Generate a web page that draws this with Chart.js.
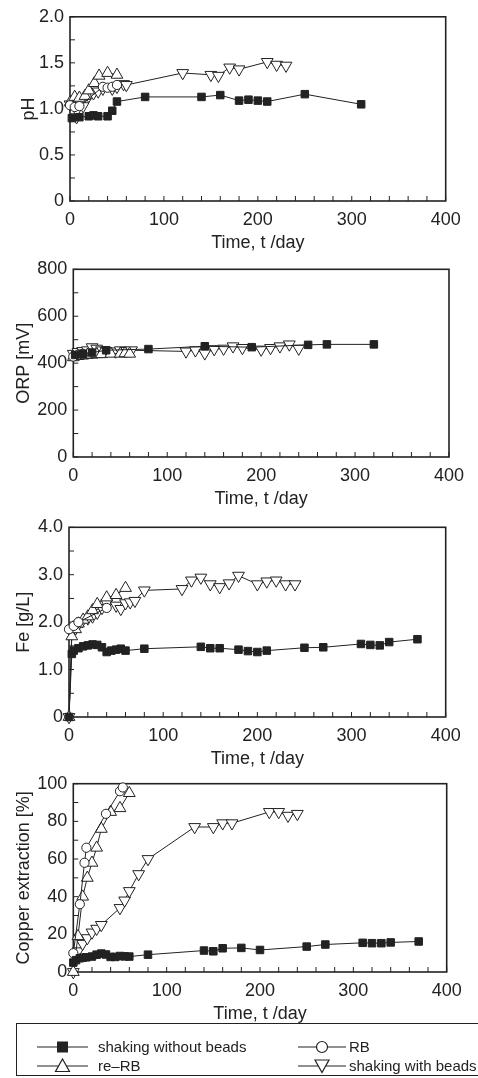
<!DOCTYPE html>
<html>
<head>
<meta charset="utf-8">
<script src="https://cdn.jsdelivr.net/npm/chart.js@4.4.1/dist/chart.umd.min.js"></script>
<style>
body { margin: 0; background: #fff; font-family: "Liberation Sans", Arial, sans-serif; color: #222; }
#page { position: relative; width: 478px; height: 1078px; overflow: hidden; }
.panel { position: absolute; left: 0; width: 478px; }
#legend { position: absolute; left: 16px; top: 1023px; width: 470px; height: 53px; box-sizing: border-box; border: 1.5px solid #222; }
.item { position: absolute; height: 20px; line-height: 20px; font-size: 15px; white-space: nowrap; }
.item svg { position: absolute; top: 0; left: 0; }
.item span { position: absolute; top: 0; }
</style>
</head>
<body>
<div id="page">
  <div class="panel" style="top:0px;height:256px"><canvas id="chartPH"></canvas></div>
  <div class="panel" style="top:250px;height:262px"><canvas id="chartORP"></canvas></div>
  <div class="panel" style="top:510px;height:262px"><canvas id="chartFe"></canvas></div>
  <div class="panel" style="top:765px;height:262px"><canvas id="chartCu"></canvas></div>

  <div id="legend">
    <div class="item" style="left:20px;top:13px">
      <svg width="51" height="20"><line x1="0" y1="10" x2="51" y2="10" stroke="#222" stroke-width="1.2"/><rect x="20" y="4.5" width="11" height="11" fill="#222"/></svg>
      <span style="left:61px">shaking without beads</span>
    </div>
    <div class="item" style="left:20px;top:32px">
      <svg width="51" height="20"><line x1="0" y1="10" x2="51" y2="10" stroke="#222" stroke-width="1.2"/><polygon points="25.5,3 32.5,15.5 18.5,15.5" fill="#fff" stroke="#222" stroke-width="1.2"/></svg>
      <span style="left:61px">re–RB</span>
    </div>
    <div class="item" style="left:281px;top:13px">
      <svg width="48" height="20"><line x1="0" y1="10" x2="48" y2="10" stroke="#222" stroke-width="1.2"/><circle cx="24" cy="10" r="5.5" fill="#fff" stroke="#222" stroke-width="1.2"/></svg>
      <span style="left:51px">RB</span>
    </div>
    <div class="item" style="left:281px;top:32px">
      <svg width="48" height="20"><line x1="0" y1="10" x2="48" y2="10" stroke="#222" stroke-width="1.2"/><polygon points="17,4 31,4 24,16.5" fill="#fff" stroke="#222" stroke-width="1.2"/></svg>
      <span style="left:51px">shaking with beads</span>
    </div>
  </div>
</div>

<script>
// ---- data (days / values) ----
let xTicks = [0, 100, 200, 300, 400]

// pH
let phDaysNoBeads = [2, 10, 20, 25, 30, 40, 45, 50, 80, 140, 160, 180, 190, 200, 210, 250, 310]
let phNoBeads = [0.90, 0.91, 0.92, 0.93, 0.92, 0.92, 0.98, 1.08, 1.13, 1.13, 1.15, 1.09, 1.10, 1.09, 1.08, 1.16, 1.05]
let phDaysRB = [0, 5, 10, 35, 40, 45, 50]
let phRB = [1.04, 1.02, 1.03, 1.24, 1.23, 1.24, 1.26]
let phDaysReRB = [0, 5, 10, 16, 20, 26, 31, 40, 50]
let phReRB = [1.07, 1.13, 1.12, 1.14, 1.20, 1.28, 1.36, 1.39, 1.37]
let phDaysBeads = [0, 7, 14, 20, 25, 30, 35, 45, 50, 57, 60, 120, 150, 158, 170, 180, 210, 220, 230]
let phBeads = [1.05, 0.91, 1.03, 1.14, 1.17, 1.19, 1.22, 1.22, 1.24, 1.27, 1.26, 1.39, 1.37, 1.36, 1.45, 1.43, 1.51, 1.48, 1.47]
let phTicks = [0, 0.5, 1.0, 1.5, 2.0]

// ORP
let orpDaysNoBeads = [2, 10, 20, 35, 80, 140, 190, 250, 270, 320]
let orpNoBeads = [435, 440, 445, 455, 460, 472, 468, 478, 480, 480]
let orpDaysRB = [0, 5, 10]
let orpRB = [428, 436, 440]
let orpDaysReRB = [0, 5, 10, 15, 20, 25, 30, 40, 50, 55, 60]
let orpReRB = [425, 430, 432, 435, 436, 438, 438, 440, 440, 442, 440]
let orpDaysBeads = [0, 5, 10, 15, 20, 25, 30, 35, 45, 50, 57, 62, 120, 130, 140, 150, 160, 170, 180, 200, 210, 220, 230, 240]
let orpBeads = [440, 448, 452, 455, 468, 462, 455, 452, 450, 455, 452, 455, 450, 455, 442, 460, 462, 472, 465, 458, 465, 472, 480, 462]
let orpTicks = [0, 200, 400, 600, 800]

// Fe
let feDaysNoBeads = [0, 3, 5, 10, 15, 20, 25, 30, 35, 40, 45, 50, 55, 60, 80, 140, 150, 160, 180, 190, 200, 210, 250, 270, 310, 320, 330, 340, 370]
let feNoBeads = [0, 1.33, 1.40, 1.45, 1.49, 1.51, 1.53, 1.52, 1.47, 1.37, 1.40, 1.42, 1.44, 1.40, 1.44, 1.48, 1.45, 1.45, 1.42, 1.39, 1.37, 1.40, 1.46, 1.47, 1.54, 1.52, 1.51, 1.58, 1.64]
let feDaysRB = [0, 5, 10, 40]
let feRB = [1.85, 1.92, 2.00, 2.30]
let feDaysReRB = [0, 3, 7, 10, 15, 20, 25, 30, 40, 50, 60]
let feReRB = [0, 1.70, 1.85, 1.97, 2.05, 2.12, 2.25, 2.38, 2.52, 2.57, 2.72]
let feDaysBeads = [0, 3, 7, 10, 14, 20, 25, 30, 35, 40, 50, 55, 60, 65, 70, 80, 120, 130, 140, 150, 160, 170, 180, 200, 210, 220, 230, 240]
let feBeads = [0, 1.80, 1.87, 1.95, 2.02, 2.08, 2.12, 2.20, 2.30, 2.40, 2.35, 2.28, 2.40, 2.42, 2.45, 2.67, 2.70, 2.88, 2.94, 2.80, 2.74, 2.82, 2.98, 2.80, 2.86, 2.88, 2.80, 2.80]
let feTicks = [0, 1.0, 2.0, 3.0, 4.0]

// Copper extraction
let cuDaysNoBeads = [0, 3, 7, 10, 14, 20, 25, 30, 35, 40, 45, 50, 55, 60, 80, 140, 150, 160, 180, 200, 250, 270, 310, 320, 330, 340, 370]
let cuNoBeads = [5, 6.3, 7.3, 7.6, 7.8, 8.2, 9.2, 9.8, 9.3, 8.0, 8.0, 8.5, 8.3, 8.2, 9.2, 11.4, 11.0, 12.6, 12.8, 11.7, 13.5, 14.6, 15.5, 15.3, 15.3, 15.7, 16.2]
let cuDaysRB = [0, 7, 12, 14, 35, 50, 53]
let cuRB = [10, 36, 58, 66, 84, 96, 98]
let cuDaysReRB = [0, 5, 10, 15, 20, 25, 30, 40, 50, 60]
let cuReRB = [0, 19, 40, 50, 58, 66, 76, 85, 87, 95]
let cuDaysBeads = [0, 5, 10, 15, 20, 25, 30, 50, 55, 60, 70, 80, 130, 150, 160, 170, 210, 220, 230, 240]
let cuBeads = [0, 11, 15, 18, 21, 23, 25, 34, 38, 43, 52, 60, 77, 77, 79, 79, 85, 85, 83, 84]
let cuTicks = [0, 20, 40, 60, 80, 100]

let ink = '#222'
let fontFamily = '"Liberation Sans", Arial, sans-serif'

// frame round the plot area + small inward ticks on bottom and left
let frameTicks = {
    id: 'frameTicks',
    beforeDatasetsDraw(chart, args, opts) {
        let ctx = chart.ctx, a = chart.chartArea, x = chart.scales.x, y = chart.scales.y
        ctx.save()
        ctx.strokeStyle = ink
        ctx.lineWidth = 1
        ctx.beginPath()
        for (let v = 0; v <= 400; v += 20) {
            let px = x.getPixelForValue(v)
            ctx.moveTo(px, a.bottom)
            ctx.lineTo(px, a.bottom - 5)
        }
        for (let v = y.min; v <= y.max + 1e-9; v += opts.yMinor) {
            let py = y.getPixelForValue(v)
            ctx.moveTo(a.left, py)
            ctx.lineTo(a.left + 5, py)
        }
        ctx.stroke()
        ctx.lineWidth = 1.6
        ctx.strokeRect(a.left, a.top, a.right - a.left, a.bottom - a.top)
        ctx.restore()
    }
}

function series(days, vals, kind) {
    let ds = {
        data: days.map((d, i) => ({x: d, y: vals[i]})),
        showLine: true,
        borderColor: ink,
        borderWidth: 1,
        pointBorderColor: ink,
        pointBorderWidth: 1,
        pointBackgroundColor: '#fff',
        clip: false
    }
    if (kind == 'square') { ds.pointStyle = 'rect'; ds.pointRadius = 5.3; ds.pointBackgroundColor = ink }
    if (kind == 'circle') { ds.pointStyle = 'circle'; ds.pointRadius = 4.6 }
    if (kind == 'up') { ds.pointStyle = 'triangle'; ds.pointRadius = 6.8 }
    if (kind == 'down') { ds.pointStyle = 'triangle'; ds.pointRadius = 6.8; ds.pointRotation = 180 }
    return ds
}

function makeChart(el, p) {
    return new Chart(document.getElementById(el), {
        type: 'scatter',
        data: { datasets: p.datasets },
        options: {
            responsive: true,
            maintainAspectRatio: false,
            animation: false,
            events: [],
            layout: { padding: { top: p.top, right: 478 - p.right, bottom: 2, left: 0 } },
            plugins: { legend: { display: false }, tooltip: { enabled: false }, frameTicks: { yMinor: p.yMinor } },
            scales: {
                x: {
                    type: 'linear', min: 0, max: 400,
                    afterFit: s => { s.height = 53 },
                    afterBuildTicks: s => { s.ticks = xTicks.map(v => ({value: v})) },
                    grid: { display: false, drawTicks: false },
                    border: { display: false },
                    ticks: { color: ink, padding: 8, font: { family: fontFamily, size: 18 } },
                    title: { display: true, text: 'Time, t /day', color: ink, padding: { top: 0, bottom: 0 }, font: { family: fontFamily, size: 18 } }
                },
                y: {
                    min: p.yTicks[0], max: p.yTicks[p.yTicks.length - 1],
                    afterFit: s => { s.width = p.left },
                    afterBuildTicks: s => { s.ticks = p.yTicks.map(v => ({value: v})) },
                    grid: { display: false, drawTicks: false },
                    border: { display: false },
                    ticks: { color: ink, padding: 6, font: { family: fontFamily, size: 18 }, callback: p.fmt },
                    title: { display: true, text: p.title, color: ink, padding: { top: p.titlePad, bottom: 0 }, font: { family: fontFamily, size: 18 } }
                }
            }
        },
        plugins: [frameTicks]
    })
}

let oneDecimal = v => v == 0 ? '0' : v.toFixed(1)
let plain = v => String(v)

makeChart('chartPH', {
    top: 13.3, left: 70, right: 445.7, yMinor: 0.25, yTicks: phTicks, fmt: oneDecimal, title: 'pH', titlePad: 18.5,
    datasets: [
        series(phDaysNoBeads, phNoBeads, 'square'),
        series(phDaysRB, phRB, 'circle'),
        series(phDaysReRB, phReRB, 'up'),
        series(phDaysBeads, phBeads, 'down')
    ]
})

makeChart('chartORP', {
    top: 19.3, left: 73.3, right: 449, yMinor: 100, yTicks: orpTicks, fmt: plain, title: 'ORP [mV]', titlePad: 13,
    datasets: [
        series(orpDaysNoBeads, orpNoBeads, 'square'),
        series(orpDaysRB, orpRB, 'circle'),
        series(orpDaysReRB, orpReRB, 'up'),
        series(orpDaysBeads, orpBeads, 'down')
    ]
})

makeChart('chartFe', {
    top: 17.3, left: 69, right: 445.7, yMinor: 0.5, yTicks: feTicks, fmt: oneDecimal, title: 'Fe [g/L]', titlePad: 13,
    datasets: [
        series(feDaysNoBeads, feNoBeads, 'square'),
        series(feDaysRB, feRB, 'circle'),
        series(feDaysReRB, feReRB, 'up'),
        series(feDaysBeads, feBeads, 'down')
    ]
})

makeChart('chartCu', {
    top: 18.7, left: 73.3, right: 446.7, yMinor: 10, yTicks: cuTicks, fmt: plain, title: 'Copper extraction [%]', titlePad: 13,
    datasets: [
        series(cuDaysNoBeads, cuNoBeads, 'square'),
        series(cuDaysRB, cuRB, 'circle'),
        series(cuDaysReRB, cuReRB, 'up'),
        series(cuDaysBeads, cuBeads, 'down')
    ]
})
</script>
</body>
</html>
